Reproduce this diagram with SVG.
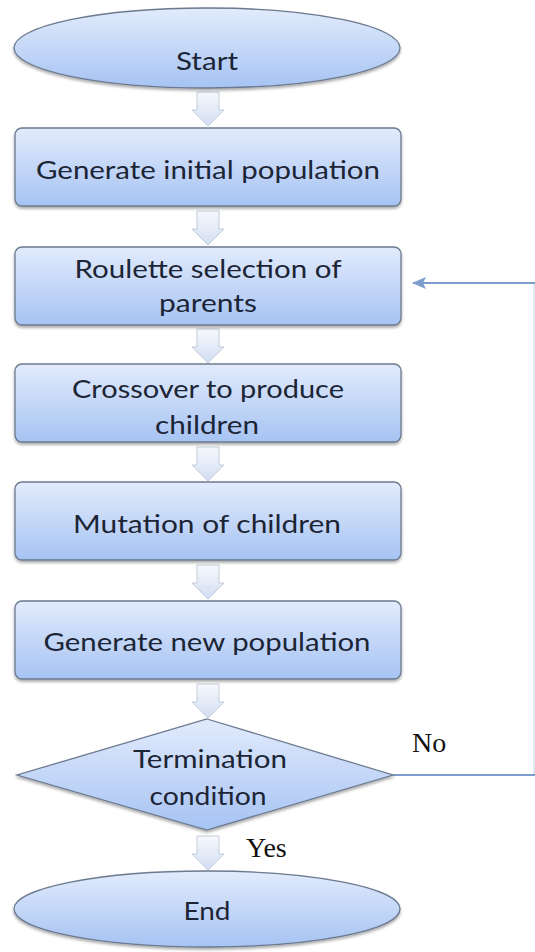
<svg xmlns="http://www.w3.org/2000/svg" width="535" height="952" viewBox="0 0 535 952">
<defs>
<linearGradient id="g" x1="0" y1="0" x2="0" y2="1">
<stop offset="0" stop-color="#e2ebfc"/>
<stop offset="1" stop-color="#a6c3f3"/>
</linearGradient>
<linearGradient id="ga" x1="0" y1="0" x2="0" y2="1">
<stop offset="0" stop-color="#f6f8fd"/>
<stop offset="1" stop-color="#d3def3"/>
</linearGradient>
<filter id="sh" x="-10%" y="-10%" width="120%" height="130%">
<feGaussianBlur in="SourceAlpha" stdDeviation="1.5"/>
<feOffset dx="0" dy="2" result="b"/>
<feComponentTransfer><feFuncA type="linear" slope="0.35"/></feComponentTransfer>
<feMerge><feMergeNode/><feMergeNode in="SourceGraphic"/></feMerge>
</filter>
<marker id="ah" viewBox="0 0 14 12" markerWidth="14" markerHeight="12" refX="13" refY="6" orient="auto" markerUnits="userSpaceOnUse">
<path d="M0,0 L14,6 L0,12 L3,6 Z" fill="#7d9dcc"/>
</marker>
<path id="blk" d="M-11,0 H11 V18 H16 L0,34 L-16,18 H-11 Z"/>
</defs>
<style>
.shape{fill:url(#g);stroke:#6c7a90;stroke-width:1.3;filter:url(#sh)}
.t{font-family:Lato,"Open Sans","Liberation Sans",sans-serif;font-size:25px;fill:#1c2535;text-anchor:middle}
.s{font-family:"Liberation Serif","Times New Roman",serif;font-size:28px;fill:#111}
.ba{fill:url(#ga);stroke:#c3cbd9;stroke-width:1}
.conn{fill:none;stroke:#7d9dcc;stroke-width:2}
</style>

<g id="connectors">
<use href="#blk" class="ba" x="208" y="92"/>
<use href="#blk" class="ba" x="208" y="211"/>
<use href="#blk" class="ba" x="208" y="329"/>
<use href="#blk" class="ba" x="208" y="447"/>
<use href="#blk" class="ba" x="208" y="565"/>
<use href="#blk" class="ba" x="208" y="684"/>
<use href="#blk" class="ba" x="208" y="836"/>
<path class="conn" d="M393,775 H535"/>
<path class="conn" d="M534,775 V283" stroke-opacity="0.25"/>
<path class="conn" d="M535,283 H413" marker-end="url(#ah)"/>
<text class="s" x="412" y="752">No</text>
<text class="s" x="246" y="857">Yes</text>
</g>

<g id="start">
<ellipse class="shape" cx="207" cy="48" rx="193" ry="40"/>
<text class="t" x="207" y="70" textLength="62" lengthAdjust="spacingAndGlyphs">Start</text>
</g>

<g id="init">
<rect class="shape" x="15" y="128" width="386" height="78" rx="7"/>
<text class="t" x="208" y="179" textLength="344" lengthAdjust="spacingAndGlyphs">Generate initial population</text>
</g>

<g id="roulette">
<rect class="shape" x="15" y="247" width="386" height="78" rx="7"/>
<text class="t" x="208" y="278" textLength="267" lengthAdjust="spacingAndGlyphs">Roulette selection of</text>
<text class="t" x="208" y="312" textLength="98" lengthAdjust="spacingAndGlyphs">parents</text>
</g>

<g id="crossover">
<rect class="shape" x="15" y="364" width="386" height="78" rx="7"/>
<text class="t" x="208" y="398" textLength="272" lengthAdjust="spacingAndGlyphs">Crossover to produce</text>
<text class="t" x="207" y="434" textLength="104" lengthAdjust="spacingAndGlyphs">children</text>
</g>

<g id="mutation">
<rect class="shape" x="15" y="482" width="386" height="78" rx="7"/>
<text class="t" x="207" y="533" textLength="268" lengthAdjust="spacingAndGlyphs">Mutation of children</text>
</g>

<g id="newpop">
<rect class="shape" x="15" y="601" width="386" height="78" rx="7"/>
<text class="t" x="207" y="651" textLength="327" lengthAdjust="spacingAndGlyphs">Generate new population</text>
</g>

<g id="termination">
<path class="shape" d="M207,719 L393,775 L207,830 L17,775 Z"/>
<text class="t" x="210" y="768" textLength="154" lengthAdjust="spacingAndGlyphs">Termination</text>
<text class="t" x="208" y="805" textLength="117" lengthAdjust="spacingAndGlyphs">condition</text>
</g>

<g id="end">
<ellipse class="shape" cx="207" cy="909" rx="193" ry="38"/>
<text class="t" x="207" y="920" textLength="47" lengthAdjust="spacingAndGlyphs">End</text>
</g>
</svg>
